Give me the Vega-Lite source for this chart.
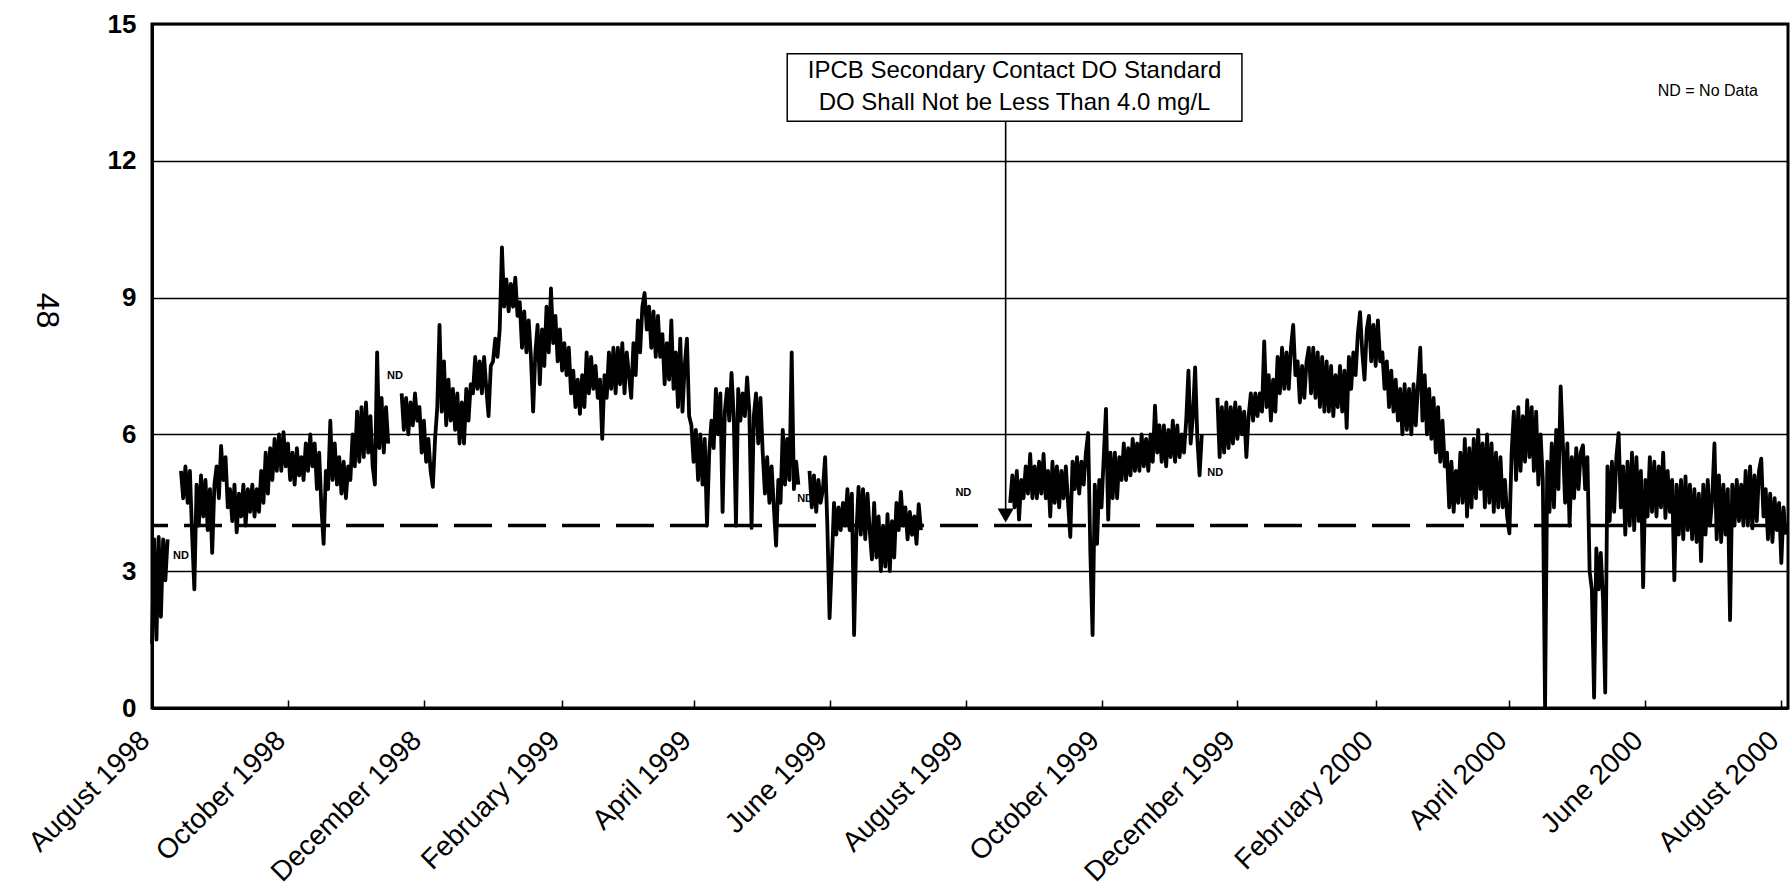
{
"$schema":"https://vega.github.io/schema/vega-lite/v6.json",
"width":1636,"height":684,
"autosize":{"type":"none"},
"padding":{"left":152,"top":24,"right":2,"bottom":186},
"background":"white",
"config":{"font":"Liberation Sans","view":{"stroke":"black","strokeWidth":3}},
"datasets":{
"do":[
{"date":"1998-08-01","do":1.4},{"date":"1998-08-02","do":3.7},{"date":"1998-08-03","do":1.5},{"date":"1998-08-04","do":3.75},{"date":"1998-08-05","do":2.0},{"date":"1998-08-06","do":3.7},{"date":"1998-08-07","do":2.8},{"date":"1998-08-08","do":3.7},{"date":"1998-08-09","do":null},
{"date":"1998-08-14","do":5.2},{"date":"1998-08-15","do":4.6},{"date":"1998-08-16","do":5.3},{"date":"1998-08-17","do":4.5},{"date":"1998-08-18","do":5.2},{"date":"1998-08-19","do":3.8},{"date":"1998-08-20","do":2.6},{"date":"1998-08-21","do":4.9},{"date":"1998-08-22","do":4.0},{"date":"1998-08-23","do":5.1},{"date":"1998-08-24","do":4.2},{"date":"1998-08-25","do":5.0},{"date":"1998-08-26","do":3.9},{"date":"1998-08-27","do":4.8},{"date":"1998-08-28","do":3.4},{"date":"1998-08-29","do":4.9},{"date":"1998-08-30","do":5.3},{"date":"1998-08-31","do":4.6},
{"date":"1998-09-01","do":5.75},{"date":"1998-09-02","do":5.0},{"date":"1998-09-03","do":5.5},{"date":"1998-09-04","do":4.4},{"date":"1998-09-05","do":4.8},{"date":"1998-09-06","do":4.1},{"date":"1998-09-07","do":4.9},{"date":"1998-09-08","do":3.85},{"date":"1998-09-09","do":4.7},{"date":"1998-09-10","do":4.2},{"date":"1998-09-11","do":4.9},{"date":"1998-09-12","do":4.0},{"date":"1998-09-13","do":4.8},{"date":"1998-09-14","do":4.3},{"date":"1998-09-15","do":4.9},{"date":"1998-09-16","do":4.2},{"date":"1998-09-17","do":4.8},{"date":"1998-09-18","do":4.3},{"date":"1998-09-19","do":5.2},{"date":"1998-09-20","do":4.5},{"date":"1998-09-21","do":5.6},{"date":"1998-09-22","do":4.7},{"date":"1998-09-23","do":5.7},{"date":"1998-09-24","do":5.0},{"date":"1998-09-25","do":5.9},{"date":"1998-09-26","do":5.2},{"date":"1998-09-27","do":6.0},{"date":"1998-09-28","do":5.2},{"date":"1998-09-29","do":6.05},{"date":"1998-09-30","do":5.3},
{"date":"1998-10-01","do":5.8},{"date":"1998-10-02","do":5.0},{"date":"1998-10-03","do":5.6},{"date":"1998-10-04","do":4.9},{"date":"1998-10-05","do":5.7},{"date":"1998-10-06","do":5.1},{"date":"1998-10-07","do":5.5},{"date":"1998-10-08","do":5.0},{"date":"1998-10-09","do":5.8},{"date":"1998-10-10","do":5.2},{"date":"1998-10-11","do":6.0},{"date":"1998-10-12","do":5.3},{"date":"1998-10-13","do":5.8},{"date":"1998-10-14","do":4.8},{"date":"1998-10-15","do":5.6},{"date":"1998-10-16","do":4.4},{"date":"1998-10-17","do":3.6},{"date":"1998-10-18","do":5.2},{"date":"1998-10-19","do":4.8},{"date":"1998-10-20","do":6.3},{"date":"1998-10-21","do":5.0},{"date":"1998-10-22","do":5.8},{"date":"1998-10-23","do":4.9},{"date":"1998-10-24","do":5.5},{"date":"1998-10-25","do":4.7},{"date":"1998-10-26","do":5.4},{"date":"1998-10-27","do":4.6},{"date":"1998-10-28","do":5.3},{"date":"1998-10-29","do":5.0},{"date":"1998-10-30","do":6.0},{"date":"1998-10-31","do":5.3},
{"date":"1998-11-01","do":6.5},{"date":"1998-11-02","do":5.4},{"date":"1998-11-03","do":6.6},{"date":"1998-11-04","do":5.5},{"date":"1998-11-05","do":6.7},{"date":"1998-11-06","do":5.6},{"date":"1998-11-07","do":6.4},{"date":"1998-11-08","do":5.3},{"date":"1998-11-09","do":4.9},{"date":"1998-11-10","do":7.8},{"date":"1998-11-11","do":5.7},{"date":"1998-11-12","do":6.8},{"date":"1998-11-13","do":5.6},{"date":"1998-11-14","do":6.6},{"date":"1998-11-15","do":5.8},{"date":"1998-11-16","do":null},
{"date":"1998-11-21","do":6.9},{"date":"1998-11-22","do":6.1},{"date":"1998-11-23","do":6.8},{"date":"1998-11-24","do":6.0},{"date":"1998-11-25","do":6.7},{"date":"1998-11-26","do":6.2},{"date":"1998-11-27","do":6.9},{"date":"1998-11-28","do":6.3},{"date":"1998-11-29","do":6.6},{"date":"1998-11-30","do":5.6},
{"date":"1998-12-01","do":6.3},{"date":"1998-12-02","do":5.4},{"date":"1998-12-03","do":5.9},{"date":"1998-12-04","do":5.2},{"date":"1998-12-05","do":4.85},{"date":"1998-12-06","do":5.9},{"date":"1998-12-07","do":6.6},{"date":"1998-12-08","do":8.4},{"date":"1998-12-09","do":6.5},{"date":"1998-12-10","do":7.6},{"date":"1998-12-11","do":6.2},{"date":"1998-12-12","do":7.2},{"date":"1998-12-13","do":6.3},{"date":"1998-12-14","do":7.0},{"date":"1998-12-15","do":6.1},{"date":"1998-12-16","do":6.9},{"date":"1998-12-17","do":5.8},{"date":"1998-12-18","do":6.7},{"date":"1998-12-19","do":5.8},{"date":"1998-12-20","do":7.0},{"date":"1998-12-21","do":6.3},{"date":"1998-12-22","do":7.1},{"date":"1998-12-23","do":6.9},{"date":"1998-12-24","do":7.7},{"date":"1998-12-25","do":7.0},{"date":"1998-12-26","do":7.6},{"date":"1998-12-27","do":6.9},{"date":"1998-12-28","do":7.7},{"date":"1998-12-29","do":7.0},{"date":"1998-12-30","do":6.4},{"date":"1998-12-31","do":7.5},
{"date":"1999-01-01","do":7.6},{"date":"1999-01-02","do":8.1},{"date":"1999-01-03","do":7.7},{"date":"1999-01-04","do":8.3},{"date":"1999-01-05","do":10.1},{"date":"1999-01-06","do":8.8},{"date":"1999-01-07","do":9.4},{"date":"1999-01-08","do":8.7},{"date":"1999-01-09","do":9.3},{"date":"1999-01-10","do":8.8},{"date":"1999-01-11","do":9.44},{"date":"1999-01-12","do":8.6},{"date":"1999-01-13","do":8.9},{"date":"1999-01-14","do":7.9},{"date":"1999-01-15","do":8.7},{"date":"1999-01-16","do":7.8},{"date":"1999-01-17","do":8.5},{"date":"1999-01-18","do":7.7},{"date":"1999-01-19","do":6.5},{"date":"1999-01-20","do":7.8},{"date":"1999-01-21","do":8.4},{"date":"1999-01-22","do":7.1},{"date":"1999-01-23","do":8.3},{"date":"1999-01-24","do":7.5},{"date":"1999-01-25","do":8.8},{"date":"1999-01-26","do":7.8},{"date":"1999-01-27","do":9.2},{"date":"1999-01-28","do":8.0},{"date":"1999-01-29","do":8.6},{"date":"1999-01-30","do":7.6},{"date":"1999-01-31","do":8.3},
{"date":"1999-02-01","do":7.4},{"date":"1999-02-02","do":8.0},{"date":"1999-02-03","do":7.3},{"date":"1999-02-04","do":7.9},{"date":"1999-02-05","do":6.9},{"date":"1999-02-06","do":7.4},{"date":"1999-02-07","do":6.6},{"date":"1999-02-08","do":7.2},{"date":"1999-02-09","do":6.45},{"date":"1999-02-10","do":7.3},{"date":"1999-02-11","do":6.6},{"date":"1999-02-12","do":7.8},{"date":"1999-02-13","do":6.9},{"date":"1999-02-14","do":7.7},{"date":"1999-02-15","do":7.0},{"date":"1999-02-16","do":7.5},{"date":"1999-02-17","do":6.8},{"date":"1999-02-18","do":7.2},{"date":"1999-02-19","do":5.9},{"date":"1999-02-20","do":7.3},{"date":"1999-02-21","do":6.8},{"date":"1999-02-22","do":7.8},{"date":"1999-02-23","do":7.0},{"date":"1999-02-24","do":7.9},{"date":"1999-02-25","do":6.9},{"date":"1999-02-26","do":7.9},{"date":"1999-02-27","do":7.1},{"date":"1999-02-28","do":8.0},
{"date":"1999-03-01","do":6.9},{"date":"1999-03-02","do":7.8},{"date":"1999-03-03","do":7.3},{"date":"1999-03-04","do":6.8},{"date":"1999-03-05","do":8.0},{"date":"1999-03-06","do":7.3},{"date":"1999-03-07","do":8.5},{"date":"1999-03-08","do":7.8},{"date":"1999-03-09","do":8.8},{"date":"1999-03-10","do":9.1},{"date":"1999-03-11","do":8.3},{"date":"1999-03-12","do":8.8},{"date":"1999-03-13","do":7.9},{"date":"1999-03-14","do":8.7},{"date":"1999-03-15","do":7.7},{"date":"1999-03-16","do":8.6},{"date":"1999-03-17","do":7.7},{"date":"1999-03-18","do":8.2},{"date":"1999-03-19","do":7.1},{"date":"1999-03-20","do":8.0},{"date":"1999-03-21","do":7.2},{"date":"1999-03-22","do":8.5},{"date":"1999-03-23","do":7.0},{"date":"1999-03-24","do":7.8},{"date":"1999-03-25","do":6.6},{"date":"1999-03-26","do":8.1},{"date":"1999-03-27","do":6.5},{"date":"1999-03-28","do":7.5},{"date":"1999-03-29","do":8.1},{"date":"1999-03-30","do":6.4},{"date":"1999-03-31","do":6.2},
{"date":"1999-04-01","do":5.4},{"date":"1999-04-02","do":6.1},{"date":"1999-04-03","do":5.0},{"date":"1999-04-04","do":6.0},{"date":"1999-04-05","do":4.9},{"date":"1999-04-06","do":5.9},{"date":"1999-04-07","do":4.0},{"date":"1999-04-08","do":5.6},{"date":"1999-04-09","do":6.3},{"date":"1999-04-10","do":5.7},{"date":"1999-04-11","do":7.0},{"date":"1999-04-12","do":6.0},{"date":"1999-04-13","do":6.9},{"date":"1999-04-14","do":4.3},{"date":"1999-04-15","do":6.5},{"date":"1999-04-16","do":7.0},{"date":"1999-04-17","do":6.3},{"date":"1999-04-18","do":7.35},{"date":"1999-04-19","do":6.4},{"date":"1999-04-20","do":4.0},{"date":"1999-04-21","do":7.0},{"date":"1999-04-22","do":6.3},{"date":"1999-04-23","do":6.9},{"date":"1999-04-24","do":6.4},{"date":"1999-04-25","do":7.25},{"date":"1999-04-26","do":6.5},{"date":"1999-04-27","do":3.95},{"date":"1999-04-28","do":6.4},{"date":"1999-04-29","do":6.9},{"date":"1999-04-30","do":5.8},
{"date":"1999-05-01","do":6.8},{"date":"1999-05-02","do":5.6},{"date":"1999-05-03","do":4.7},{"date":"1999-05-04","do":5.5},{"date":"1999-05-05","do":4.5},{"date":"1999-05-06","do":5.3},{"date":"1999-05-07","do":4.4},{"date":"1999-05-08","do":3.56},{"date":"1999-05-09","do":5.0},{"date":"1999-05-10","do":4.5},{"date":"1999-05-11","do":6.1},{"date":"1999-05-12","do":4.9},{"date":"1999-05-13","do":5.9},{"date":"1999-05-14","do":5.0},{"date":"1999-05-15","do":7.8},{"date":"1999-05-16","do":4.8},{"date":"1999-05-17","do":5.4},{"date":"1999-05-18","do":4.9},{"date":"1999-05-19","do":null},
{"date":"1999-05-23","do":5.2},{"date":"1999-05-24","do":4.4},{"date":"1999-05-25","do":5.1},{"date":"1999-05-26","do":4.3},{"date":"1999-05-27","do":5.0},{"date":"1999-05-28","do":4.5},{"date":"1999-05-29","do":4.8},{"date":"1999-05-30","do":5.5},{"date":"1999-05-31","do":4.0},
{"date":"1999-06-01","do":1.97},{"date":"1999-06-02","do":3.2},{"date":"1999-06-03","do":4.5},{"date":"1999-06-04","do":3.8},{"date":"1999-06-05","do":4.4},{"date":"1999-06-06","do":3.9},{"date":"1999-06-07","do":4.5},{"date":"1999-06-08","do":4.0},{"date":"1999-06-09","do":4.8},{"date":"1999-06-10","do":3.9},{"date":"1999-06-11","do":4.7},{"date":"1999-06-12","do":1.6},{"date":"1999-06-13","do":3.8},{"date":"1999-06-14","do":4.85},{"date":"1999-06-15","do":3.8},{"date":"1999-06-16","do":4.8},{"date":"1999-06-17","do":3.7},{"date":"1999-06-18","do":4.7},{"date":"1999-06-19","do":3.9},{"date":"1999-06-20","do":3.26},{"date":"1999-06-21","do":4.5},{"date":"1999-06-22","do":3.3},{"date":"1999-06-23","do":4.2},{"date":"1999-06-24","do":3.0},{"date":"1999-06-25","do":4.0},{"date":"1999-06-26","do":3.1},{"date":"1999-06-27","do":4.25},{"date":"1999-06-28","do":3.0},{"date":"1999-06-29","do":4.1},{"date":"1999-06-30","do":3.3},
{"date":"1999-07-01","do":4.5},{"date":"1999-07-02","do":3.9},{"date":"1999-07-03","do":4.74},{"date":"1999-07-04","do":4.0},{"date":"1999-07-05","do":4.4},{"date":"1999-07-06","do":3.7},{"date":"1999-07-07","do":4.3},{"date":"1999-07-08","do":3.8},{"date":"1999-07-09","do":4.2},{"date":"1999-07-10","do":3.6},{"date":"1999-07-11","do":4.47},{"date":"1999-07-12","do":3.9},{"date":"1999-07-13","do":null},
{"date":"1999-08-21","do":4.5},{"date":"1999-08-22","do":5.1},{"date":"1999-08-23","do":4.4},{"date":"1999-08-24","do":5.2},{"date":"1999-08-25","do":4.13},{"date":"1999-08-26","do":5.0},{"date":"1999-08-27","do":4.6},{"date":"1999-08-28","do":5.3},{"date":"1999-08-29","do":4.7},{"date":"1999-08-30","do":5.57},{"date":"1999-08-31","do":4.6},
{"date":"1999-09-01","do":5.3},{"date":"1999-09-02","do":4.6},{"date":"1999-09-03","do":5.4},{"date":"1999-09-04","do":4.7},{"date":"1999-09-05","do":5.57},{"date":"1999-09-06","do":4.6},{"date":"1999-09-07","do":5.2},{"date":"1999-09-08","do":4.2},{"date":"1999-09-09","do":5.4},{"date":"1999-09-10","do":4.5},{"date":"1999-09-11","do":5.3},{"date":"1999-09-12","do":4.4},{"date":"1999-09-13","do":5.2},{"date":"1999-09-14","do":4.6},{"date":"1999-09-15","do":5.3},{"date":"1999-09-16","do":4.5},{"date":"1999-09-17","do":3.75},{"date":"1999-09-18","do":5.4},{"date":"1999-09-19","do":4.8},{"date":"1999-09-20","do":5.5},{"date":"1999-09-21","do":4.7},{"date":"1999-09-22","do":5.4},{"date":"1999-09-23","do":4.9},{"date":"1999-09-24","do":5.6},{"date":"1999-09-25","do":6.03},{"date":"1999-09-26","do":3.4},{"date":"1999-09-27","do":1.6},{"date":"1999-09-28","do":4.9},{"date":"1999-09-29","do":3.6},{"date":"1999-09-30","do":5.0},
{"date":"1999-10-01","do":4.4},{"date":"1999-10-02","do":5.5},{"date":"1999-10-03","do":6.56},{"date":"1999-10-04","do":4.13},{"date":"1999-10-05","do":5.6},{"date":"1999-10-06","do":4.6},{"date":"1999-10-07","do":5.6},{"date":"1999-10-08","do":4.6},{"date":"1999-10-09","do":5.5},{"date":"1999-10-10","do":5.0},{"date":"1999-10-11","do":5.8},{"date":"1999-10-12","do":5.0},{"date":"1999-10-13","do":5.7},{"date":"1999-10-14","do":5.1},{"date":"1999-10-15","do":5.9},{"date":"1999-10-16","do":5.2},{"date":"1999-10-17","do":5.8},{"date":"1999-10-18","do":5.2},{"date":"1999-10-19","do":6.0},{"date":"1999-10-20","do":5.3},{"date":"1999-10-21","do":5.9},{"date":"1999-10-22","do":5.2},{"date":"1999-10-23","do":6.0},{"date":"1999-10-24","do":5.4},{"date":"1999-10-25","do":6.63},{"date":"1999-10-26","do":5.6},{"date":"1999-10-27","do":6.2},{"date":"1999-10-28","do":5.4},{"date":"1999-10-29","do":6.2},{"date":"1999-10-30","do":5.3},{"date":"1999-10-31","do":6.1},
{"date":"1999-11-01","do":5.5},{"date":"1999-11-02","do":6.3},{"date":"1999-11-03","do":5.4},{"date":"1999-11-04","do":6.2},{"date":"1999-11-05","do":5.5},{"date":"1999-11-06","do":6.0},{"date":"1999-11-07","do":5.6},{"date":"1999-11-08","do":6.3},{"date":"1999-11-09","do":7.4},{"date":"1999-11-10","do":5.8},{"date":"1999-11-11","do":6.4},{"date":"1999-11-12","do":7.47},{"date":"1999-11-13","do":5.9},{"date":"1999-11-14","do":5.1},{"date":"1999-11-15","do":6.0},{"date":"1999-11-16","do":null},
{"date":"1999-11-22","do":6.8},{"date":"1999-11-23","do":5.5},{"date":"1999-11-24","do":6.6},{"date":"1999-11-25","do":5.6},{"date":"1999-11-26","do":6.7},{"date":"1999-11-27","do":5.7},{"date":"1999-11-28","do":6.6},{"date":"1999-11-29","do":5.8},{"date":"1999-11-30","do":6.7},
{"date":"1999-12-01","do":5.9},{"date":"1999-12-02","do":6.6},{"date":"1999-12-03","do":6.0},{"date":"1999-12-04","do":6.5},{"date":"1999-12-05","do":5.5},{"date":"1999-12-06","do":6.4},{"date":"1999-12-07","do":6.9},{"date":"1999-12-08","do":6.3},{"date":"1999-12-09","do":6.9},{"date":"1999-12-10","do":6.4},{"date":"1999-12-11","do":6.9},{"date":"1999-12-12","do":6.5},{"date":"1999-12-13","do":8.04},{"date":"1999-12-14","do":6.6},{"date":"1999-12-15","do":7.3},{"date":"1999-12-16","do":6.3},{"date":"1999-12-17","do":7.2},{"date":"1999-12-18","do":6.5},{"date":"1999-12-19","do":7.7},{"date":"1999-12-20","do":6.9},{"date":"1999-12-21","do":7.9},{"date":"1999-12-22","do":7.0},{"date":"1999-12-23","do":7.8},{"date":"1999-12-24","do":7.0},{"date":"1999-12-25","do":7.9},{"date":"1999-12-26","do":8.4},{"date":"1999-12-27","do":7.3},{"date":"1999-12-28","do":7.6},{"date":"1999-12-29","do":6.7},{"date":"1999-12-30","do":7.5},{"date":"1999-12-31","do":6.8},
{"date":"2000-01-01","do":7.6},{"date":"2000-01-02","do":7.9},{"date":"2000-01-03","do":6.9},{"date":"2000-01-04","do":7.9},{"date":"2000-01-05","do":6.8},{"date":"2000-01-06","do":7.8},{"date":"2000-01-07","do":6.6},{"date":"2000-01-08","do":7.7},{"date":"2000-01-09","do":6.5},{"date":"2000-01-10","do":7.6},{"date":"2000-01-11","do":6.5},{"date":"2000-01-12","do":7.5},{"date":"2000-01-13","do":6.4},{"date":"2000-01-14","do":7.3},{"date":"2000-01-15","do":6.6},{"date":"2000-01-16","do":7.5},{"date":"2000-01-17","do":6.5},{"date":"2000-01-18","do":7.4},{"date":"2000-01-19","do":6.14},{"date":"2000-01-20","do":7.7},{"date":"2000-01-21","do":7.0},{"date":"2000-01-22","do":7.8},{"date":"2000-01-23","do":7.3},{"date":"2000-01-24","do":8.2},{"date":"2000-01-25","do":8.68},{"date":"2000-01-26","do":7.8},{"date":"2000-01-27","do":7.2},{"date":"2000-01-28","do":8.3},{"date":"2000-01-29","do":8.6},{"date":"2000-01-30","do":7.6},{"date":"2000-01-31","do":8.4},
{"date":"2000-02-01","do":7.5},{"date":"2000-02-02","do":8.5},{"date":"2000-02-03","do":7.6},{"date":"2000-02-04","do":7.8},{"date":"2000-02-05","do":7.0},{"date":"2000-02-06","do":7.6},{"date":"2000-02-07","do":6.6},{"date":"2000-02-08","do":7.4},{"date":"2000-02-09","do":6.5},{"date":"2000-02-10","do":7.2},{"date":"2000-02-11","do":6.3},{"date":"2000-02-12","do":7.0},{"date":"2000-02-13","do":6.0},{"date":"2000-02-14","do":7.1},{"date":"2000-02-15","do":6.1},{"date":"2000-02-16","do":7.0},{"date":"2000-02-17","do":6.0},{"date":"2000-02-18","do":7.1},{"date":"2000-02-19","do":6.2},{"date":"2000-02-20","do":7.1},{"date":"2000-02-21","do":7.9},{"date":"2000-02-22","do":6.3},{"date":"2000-02-23","do":7.3},{"date":"2000-02-24","do":6.0},{"date":"2000-02-25","do":7.0},{"date":"2000-02-26","do":5.9},{"date":"2000-02-27","do":6.8},{"date":"2000-02-28","do":5.6},{"date":"2000-02-29","do":6.6},
{"date":"2000-03-01","do":5.4},{"date":"2000-03-02","do":6.3},{"date":"2000-03-03","do":5.3},{"date":"2000-03-04","do":5.6},{"date":"2000-03-05","do":4.4},{"date":"2000-03-06","do":5.4},{"date":"2000-03-07","do":4.3},{"date":"2000-03-08","do":5.2},{"date":"2000-03-09","do":4.5},{"date":"2000-03-10","do":5.6},{"date":"2000-03-11","do":4.5},{"date":"2000-03-12","do":5.9},{"date":"2000-03-13","do":4.2},{"date":"2000-03-14","do":5.7},{"date":"2000-03-15","do":4.4},{"date":"2000-03-16","do":5.9},{"date":"2000-03-17","do":4.6},{"date":"2000-03-18","do":6.1},{"date":"2000-03-19","do":4.8},{"date":"2000-03-20","do":5.8},{"date":"2000-03-21","do":4.4},{"date":"2000-03-22","do":6.0},{"date":"2000-03-23","do":4.5},{"date":"2000-03-24","do":5.8},{"date":"2000-03-25","do":4.3},{"date":"2000-03-26","do":5.6},{"date":"2000-03-27","do":4.4},{"date":"2000-03-28","do":5.5},{"date":"2000-03-29","do":4.4},{"date":"2000-03-30","do":5.0},{"date":"2000-03-31","do":4.2},
{"date":"2000-04-01","do":3.83},{"date":"2000-04-02","do":5.6},{"date":"2000-04-03","do":6.5},{"date":"2000-04-04","do":5.0},{"date":"2000-04-05","do":6.6},{"date":"2000-04-06","do":5.2},{"date":"2000-04-07","do":6.4},{"date":"2000-04-08","do":5.4},{"date":"2000-04-09","do":6.75},{"date":"2000-04-10","do":5.5},{"date":"2000-04-11","do":6.6},{"date":"2000-04-12","do":5.2},{"date":"2000-04-13","do":6.5},{"date":"2000-04-14","do":4.9},{"date":"2000-04-15","do":6.0},{"date":"2000-04-16","do":5.0},{"date":"2000-04-17","do":0.0},{"date":"2000-04-18","do":5.4},{"date":"2000-04-19","do":4.3},{"date":"2000-04-20","do":5.8},{"date":"2000-04-21","do":4.4},{"date":"2000-04-22","do":6.1},{"date":"2000-04-23","do":4.8},{"date":"2000-04-24","do":7.05},{"date":"2000-04-25","do":5.8},{"date":"2000-04-26","do":4.5},{"date":"2000-04-27","do":5.8},{"date":"2000-04-28","do":4.0},{"date":"2000-04-29","do":5.5},{"date":"2000-04-30","do":4.6},
{"date":"2000-05-01","do":5.7},{"date":"2000-05-02","do":4.8},{"date":"2000-05-03","do":5.6},{"date":"2000-05-04","do":5.76},{"date":"2000-05-05","do":4.8},{"date":"2000-05-06","do":5.5},{"date":"2000-05-07","do":3.0},{"date":"2000-05-08","do":2.6},{"date":"2000-05-09","do":0.23},{"date":"2000-05-10","do":3.5},{"date":"2000-05-11","do":2.6},{"date":"2000-05-12","do":3.4},{"date":"2000-05-13","do":2.4},{"date":"2000-05-14","do":0.34},{"date":"2000-05-15","do":5.3},{"date":"2000-05-16","do":4.1},{"date":"2000-05-17","do":5.4},{"date":"2000-05-18","do":4.3},{"date":"2000-05-19","do":5.5},{"date":"2000-05-20","do":6.03},{"date":"2000-05-21","do":4.4},{"date":"2000-05-22","do":5.3},{"date":"2000-05-23","do":3.8},{"date":"2000-05-24","do":5.4},{"date":"2000-05-25","do":4.0},{"date":"2000-05-26","do":5.6},{"date":"2000-05-27","do":3.9},{"date":"2000-05-28","do":5.5},{"date":"2000-05-29","do":4.1},{"date":"2000-05-30","do":5.2},{"date":"2000-05-31","do":2.65},
{"date":"2000-06-01","do":5.0},{"date":"2000-06-02","do":4.2},{"date":"2000-06-03","do":5.5},{"date":"2000-06-04","do":4.3},{"date":"2000-06-05","do":5.4},{"date":"2000-06-06","do":4.2},{"date":"2000-06-07","do":5.3},{"date":"2000-06-08","do":4.4},{"date":"2000-06-09","do":5.6},{"date":"2000-06-10","do":4.17},{"date":"2000-06-11","do":5.2},{"date":"2000-06-12","do":4.3},{"date":"2000-06-13","do":5.0},{"date":"2000-06-14","do":2.8},{"date":"2000-06-15","do":4.9},{"date":"2000-06-16","do":3.8},{"date":"2000-06-17","do":5.0},{"date":"2000-06-18","do":3.7},{"date":"2000-06-19","do":5.08},{"date":"2000-06-20","do":3.9},{"date":"2000-06-21","do":4.9},{"date":"2000-06-22","do":3.7},{"date":"2000-06-23","do":4.8},{"date":"2000-06-24","do":3.64},{"date":"2000-06-25","do":4.7},{"date":"2000-06-26","do":3.22},{"date":"2000-06-27","do":4.9},{"date":"2000-06-28","do":3.8},{"date":"2000-06-29","do":5.0},{"date":"2000-06-30","do":4.0},
{"date":"2000-07-01","do":4.6},{"date":"2000-07-02","do":5.8},{"date":"2000-07-03","do":3.7},{"date":"2000-07-04","do":5.1},{"date":"2000-07-05","do":3.64},{"date":"2000-07-06","do":4.9},{"date":"2000-07-07","do":3.8},{"date":"2000-07-08","do":4.8},{"date":"2000-07-09","do":1.93},{"date":"2000-07-10","do":4.9},{"date":"2000-07-11","do":4.0},{"date":"2000-07-12","do":5.0},{"date":"2000-07-13","do":4.1},{"date":"2000-07-14","do":4.9},{"date":"2000-07-15","do":4.0},{"date":"2000-07-16","do":5.2},{"date":"2000-07-17","do":4.0},{"date":"2000-07-18","do":5.3},{"date":"2000-07-19","do":3.94},{"date":"2000-07-20","do":5.1},{"date":"2000-07-21","do":4.1},{"date":"2000-07-22","do":5.2},{"date":"2000-07-23","do":5.47},{"date":"2000-07-24","do":4.2},{"date":"2000-07-25","do":4.8},{"date":"2000-07-26","do":3.7},{"date":"2000-07-27","do":4.7},{"date":"2000-07-28","do":3.64},{"date":"2000-07-29","do":4.6},{"date":"2000-07-30","do":3.9},{"date":"2000-07-31","do":4.5},
{"date":"2000-08-01","do":3.18},{"date":"2000-08-02","do":4.4},{"date":"2000-08-03","do":3.8}
],
"nd":[
{"date":"1998-08-14","level":3.33,"label":"ND"},
{"date":"1998-11-18","level":7.27,"label":"ND"},
{"date":"1999-05-21","level":4.59,"label":"ND"},
{"date":"1999-07-31","level":4.71,"label":"ND"},
{"date":"1999-11-21","level":5.16,"label":"ND"}
]
},
"layer":[
{"data":{"values":[{}]},
 "mark":{"type":"rule","color":"black","strokeWidth":3.5,"strokeDash":[38,16]},
 "encoding":{"y":{"datum":4,"type":"quantitative"}}},
{"data":{"name":"do"},
 "mark":{"type":"line","color":"black","strokeWidth":3.8,"strokeJoin":"round","invalid":"break-paths-show-domains"},
 "encoding":{
  "x":{"field":"date","type":"temporal",
   "scale":{"type":"utc","domain":[{"year":1998,"month":8,"date":1,"utc":true},{"year":2000,"month":8,"date":4,"utc":true}]},
   "axis":{"values":[
     {"year":1998,"month":8,"date":1,"utc":true},{"year":1998,"month":10,"date":1,"utc":true},{"year":1998,"month":12,"date":1,"utc":true},
     {"year":1999,"month":2,"date":1,"utc":true},{"year":1999,"month":4,"date":1,"utc":true},{"year":1999,"month":6,"date":1,"utc":true},
     {"year":1999,"month":8,"date":1,"utc":true},{"year":1999,"month":10,"date":1,"utc":true},{"year":1999,"month":12,"date":1,"utc":true},
     {"year":2000,"month":2,"date":1,"utc":true},{"year":2000,"month":4,"date":1,"utc":true},{"year":2000,"month":6,"date":1,"utc":true},
     {"year":2000,"month":8,"date":1,"utc":true}],
    "format":"%B %Y","title":null,"grid":false,
    "labelAngle":-45,"labelAlign":"right","labelBaseline":"middle","labelFontSize":28,"labelColor":"black",
    "labelPadding":36,"labelOffset":-7,"labelOverlap":false,"labelFlush":false,"labelBound":false,"labelLimit":0,
    "ticks":true,"tickSize":-8,"tickColor":"black","tickWidth":1.5,
    "domainColor":"black","domainWidth":3}},
  "y":{"field":"do","type":"quantitative",
   "scale":{"domain":[0,15],"nice":false,"zero":true},
   "axis":{"values":[0,3,6,9,12,15],"grid":true,"gridColor":"black","gridWidth":1.6,"gridOpacity":1,
    "ticks":false,"domainColor":"black","domainWidth":3,
    "labelFontSize":26,"labelFontWeight":"bold","labelColor":"black","labelPadding":16,
    "title":"48","titleAngle":90,"titleX":-106,"titleY":286,"titleFontSize":32,"titleFontWeight":"normal",
    "titleColor":"black","titleAlign":"center","titleBaseline":"middle"}}}},
{"data":{"values":[{}]},
 "mark":{"type":"rect","fill":"white","stroke":"black","strokeWidth":1.5},
 "encoding":{
  "x":{"datum":{"year":1999,"month":5,"date":13,"utc":true},"type":"temporal","scale":{"type":"utc"}},
  "x2":{"datum":{"year":1999,"month":12,"date":3,"utc":true}},
  "y":{"datum":14.35,"type":"quantitative"},
  "y2":{"datum":12.87}}},
{"data":{"values":[{}]},
 "mark":{"type":"text","fontSize":24,"color":"black","align":"center","baseline":"middle","lineHeight":32},
 "encoding":{
  "x":{"datum":{"year":1999,"month":8,"date":23,"utc":true},"type":"temporal","scale":{"type":"utc"}},
  "y":{"datum":13.97,"type":"quantitative"},
  "text":{"value":["IPCB Secondary Contact DO Standard","DO Shall Not be Less Than 4.0 mg/L"]}}},
{"data":{"values":[{}]},
 "mark":{"type":"rule","color":"black","strokeWidth":1.6},
 "encoding":{
  "x":{"datum":{"year":1999,"month":8,"date":19,"utc":true},"type":"temporal","scale":{"type":"utc"}},
  "y":{"datum":12.87,"type":"quantitative"},
  "y2":{"datum":4.2}}},
{"data":{"values":[{}]},
 "mark":{"type":"point","shape":"triangle-down","filled":true,"color":"black","size":260,"opacity":1},
 "encoding":{
  "x":{"datum":{"year":1999,"month":8,"date":19,"utc":true},"type":"temporal","scale":{"type":"utc"}},
  "y":{"datum":4.22,"type":"quantitative"}}},
{"data":{"name":"nd"},
 "mark":{"type":"text","fontSize":11,"fontWeight":"bold","color":"black","align":"center","baseline":"middle"},
 "encoding":{
  "x":{"field":"date","type":"temporal","scale":{"type":"utc"}},
  "y":{"field":"level","type":"quantitative"},
  "text":{"field":"label"}}},
{"data":{"values":[{}]},
 "mark":{"type":"text","fontSize":16,"color":"black","align":"center","baseline":"middle"},
 "encoding":{
  "x":{"datum":{"year":2000,"month":6,"date":29,"utc":true},"type":"temporal","scale":{"type":"utc"}},
  "y":{"datum":13.52,"type":"quantitative"},
  "text":{"value":"ND = No Data"}}}
]
}
